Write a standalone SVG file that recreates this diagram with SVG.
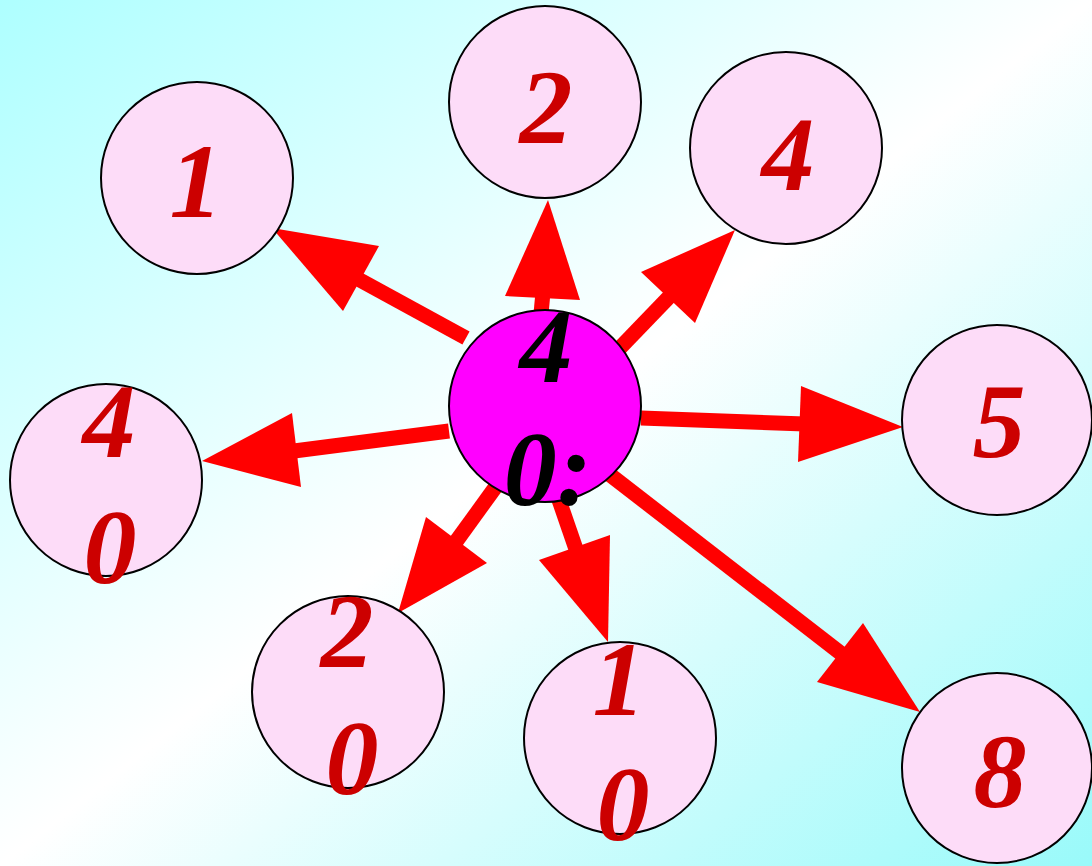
<svg xmlns="http://www.w3.org/2000/svg" width="1092" height="866" viewBox="0 0 1092 866">
<defs>
<linearGradient id="bg" x1="0" y1="0" x2="1" y2="1">
<stop offset="0" stop-color="#AEFFFF"/>
<stop offset="0.5" stop-color="#FFFFFF"/>
<stop offset="1" stop-color="#99FAFA"/>
</linearGradient>
<style>
.shaft{stroke:#FF0000;stroke-width:15;stroke-linecap:butt;fill:none}
.head{fill:#FF0000}
.node{fill:#FDDCF8;stroke:#000;stroke-width:2}
.center{fill:#FF00FF;stroke:#000;stroke-width:2}
.lbl{font-family:"Liberation Serif","Times New Roman",serif;font-weight:bold;font-style:italic;font-size:106px;fill:#CC0000;text-anchor:middle}
.clbl{font-family:"Liberation Serif","Times New Roman",serif;font-weight:bold;font-style:italic;font-size:106px;fill:#000;text-anchor:middle}
</style>
</defs>
<rect x="0" y="0" width="1092" height="866" fill="url(#bg)"/>
<g id="connectors">
<line class="shaft" x1="466" y1="338" x2="358" y2="279"/>
<polygon class="head" points="272,228 379,246 343,311"/>
<line class="shaft" x1="541" y1="314" x2="543" y2="292"/>
<polygon class="head" points="548,200 580,300 505,296"/>
<line class="shaft" x1="617" y1="351" x2="670" y2="296"/>
<polygon class="head" points="735,230 695,323 641,272"/>
<line class="shaft" x1="641" y1="418" x2="805" y2="424"/>
<polygon class="head" points="903,427 798,462 801,386"/>
<line class="shaft" x1="609" y1="474" x2="843" y2="655"/>
<polygon class="head" points="920,712 817,682 863,623"/>
<line class="shaft" x1="558" y1="497" x2="578" y2="555"/>
<polygon class="head" points="608,642 539,560 610,535"/>
<line class="shaft" x1="497" y1="485" x2="455" y2="543"/>
<polygon class="head" points="398,613 426,517 487,563"/>
<line class="shaft" x1="449" y1="431" x2="294" y2="451"/>
<polygon class="head" points="202,461 292,413 301,487"/>
</g>
<g id="node-1">
<circle class="node" cx="197" cy="178" r="96"/>
<text class="lbl" x="196" y="217">1</text>
</g>
<g id="node-2">
<circle class="node" cx="545" cy="102" r="96"/>
<text class="lbl" x="546" y="143">2</text>
</g>
<g id="node-4">
<circle class="node" cx="786" cy="148" r="96"/>
<text class="lbl" x="788" y="190">4</text>
</g>
<g id="node-5">
<circle class="node" cx="997" cy="420" r="95"/>
<text class="lbl" x="999" y="457">5</text>
</g>
<g id="node-8">
<circle class="node" cx="997" cy="768" r="95"/>
<text class="lbl" x="1000" y="807">8</text>
</g>
<g id="node-10">
<circle class="node" cx="620" cy="738" r="96"/>
<text class="lbl" x="619" y="715">1</text>
<text class="lbl" x="623" y="840">0</text>
</g>
<g id="node-20">
<circle class="node" cx="348" cy="692" r="96"/>
<text class="lbl" x="347" y="667">2</text>
<text class="lbl" x="352" y="794">0</text>
</g>
<g id="node-40">
<circle class="node" cx="106" cy="480" r="96"/>
<text class="lbl" x="109" y="457">4</text>
<text class="lbl" x="110" y="583">0</text>
</g>
<g id="node-center">
<circle class="center" cx="545" cy="406" r="96"/>
<text class="clbl" x="546" y="382">4</text>
<text class="clbl" x="548" y="505">0:</text>
</g>
</svg>
